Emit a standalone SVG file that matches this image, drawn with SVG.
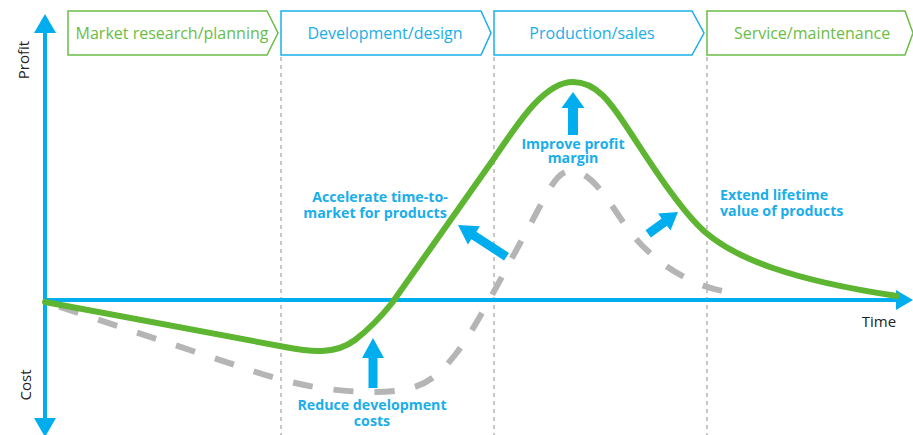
<svg xmlns="http://www.w3.org/2000/svg" width="913" height="435" viewBox="0 0 913 435">
<style>
.hdr{font-family:"Open Sans","Liberation Sans",sans-serif;font-size:16px;text-anchor:middle}
.g{fill:#6abd45}
.b{fill:#1aaeea}
.box-g{fill:#fff;stroke:#6abd45;stroke-width:1.5}
.box-b{fill:#fff;stroke:#1aaeea;stroke-width:1.5}
.vline{stroke:#c8c8c8;stroke-width:2;stroke-dasharray:4 4;fill:none}
.axis{stroke:#00aeef;stroke-width:4;fill:none}
.ahead{fill:#00aeef}
.lbl{font-family:"Open Sans","Liberation Sans",sans-serif;font-size:14.2px;font-weight:bold;fill:#1aaeea}
.ax{font-family:"Open Sans","Liberation Sans",sans-serif;font-size:15px;fill:#222}
.fat{fill:#00aeef}
</style>
<g id="phases">
<g id="phase1"><polygon class="box-g" points="68,11 267,11 278,33 267,55 68,55"/><text class="hdr g" x="172" y="39">Market research/planning</text></g>
<g id="phase2"><polygon class="box-b" points="281,11 481,11 491,33 481,55 281,55"/><text class="hdr b" x="385" y="39">Development/design</text></g>
<g id="phase3"><polygon class="box-b" points="494,11 692,11 704,33 692,55 494,55"/><text class="hdr b" x="592" y="39">Production/sales</text></g>
<g id="phase4"><polygon class="box-g" points="707,11 905,11 913,33 905,55 707,55"/><text class="hdr g" x="812" y="39">Service/maintenance</text></g>
</g>
<g id="gridlines">
<line class="vline" x1="281" y1="57" x2="281" y2="435"/>
<line class="vline" x1="494" y1="57" x2="494" y2="435"/>
<line class="vline" x1="707" y1="57" x2="707" y2="435"/>
</g>
<g id="axes">
<line class="axis" x1="45" y1="30" x2="45" y2="420"/>
<polygon class="ahead" points="45,14 34,33 56,33"/>
<polygon class="ahead" points="45,437 34,418 56,418"/>
<line class="axis" x1="45" y1="300" x2="898" y2="300"/>
<polygon class="ahead" points="913,300 896,290 896,310"/>
<text class="ax" transform="translate(29,60) rotate(-90)" text-anchor="middle">Profit</text>
<text class="ax" transform="translate(31,385) rotate(-90)" text-anchor="middle">Cost</text>
<text class="ax" x="879" y="327" text-anchor="middle">Time</text>
</g>
<g id="connectors">
<path id="cost-curve" d="M45,302 L250,370 C280,380 320,392 375,392 C420,392 435,380 455,355 C475,330 505,270 530,225 C548,192 556,171 571,171 C590,171 605,195 625,225 C650,260 690,288 735,293" fill="none" stroke="#b5b5b5" stroke-width="6" stroke-dasharray="20 21" stroke-dashoffset="-15"/>
<path id="profit-curve" d="M45,302 L285,347 C310,352 335,355 355,340 C368,330 380,318 392,303 L495,157 C520,120 545,82 573,82 C600,82 615,110 630,132 C650,162 680,210 705,232 C735,258 790,280 897,296" fill="none" stroke="#5db531" stroke-width="6" stroke-linecap="round" stroke-linejoin="round"/>
</g>
<g id="improvements">
<g id="reduce"><polygon class="fat" transform="translate(373,338)" points="0,0 11,20 4.5,20 4.5,50 -4.5,50 -4.5,20 -11,20"/>
<text class="lbl" text-anchor="middle"><tspan x="372" y="410">Reduce development</tspan><tspan x="372" y="426">costs</tspan></text></g>
<g id="improve"><polygon class="fat" transform="translate(573,92)" points="0,0 11.5,16 5,16 5,43 -5,43 -5,16 -11.5,16"/>
<text class="lbl" text-anchor="middle"><tspan x="573" y="149">Improve profit</tspan><tspan x="573" y="163">margin</tspan></text></g>
<g id="accelerate"><polygon class="fat" transform="translate(458,225) rotate(-56.8)" points="0,0 11,19 4.5,19 4.5,58 -4.5,58 -4.5,19 -11,19"/>
<text class="lbl" text-anchor="middle"><tspan x="380" y="202">Accelerate time-to-</tspan><tspan x="375" y="218">market for products</tspan></text></g>
<g id="extend"><polygon class="fat" transform="translate(678,212) rotate(53.7)" points="0,0 10.5,17 4.5,17 4.5,37 -4.5,37 -4.5,17 -10.5,17"/>
<text class="lbl"><tspan x="720" y="200">Extend lifetime</tspan><tspan x="720" y="216">value of products</tspan></text></g>
</g>
</svg>
